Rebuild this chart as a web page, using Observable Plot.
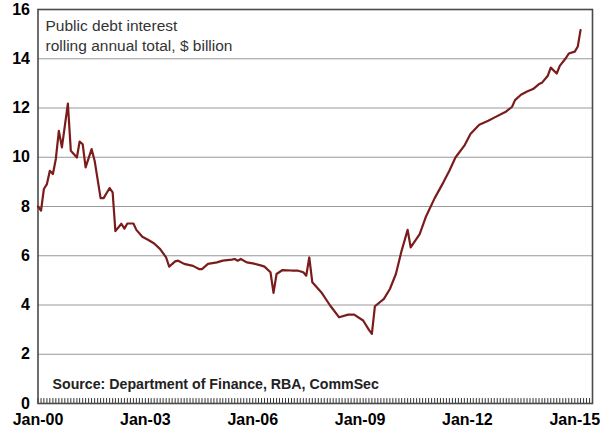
<!DOCTYPE html>
<html>
<head>
<meta charset="utf-8">
<script src="https://cdn.jsdelivr.net/npm/d3@7"></script>
<script src="https://cdn.jsdelivr.net/npm/@observablehq/plot@0.6"></script>
<style>
  html, body { margin: 0; padding: 0; background: #fff; }
  #chart svg { display: block; }
</style>
</head>
<body>
<div id="chart"></div>
<script>
const months = [
  "2000-01","2000-02","2000-03","2000-04","2000-05","2000-06","2000-07","2000-08","2000-09","2000-11",
  "2000-12","2001-02","2001-03","2001-04","2001-05","2001-07","2001-08","2001-10","2001-11","2002-01",
  "2002-02","2002-03","2002-05","2002-06","2002-07","2002-09","2002-10","2002-12","2003-02","2003-04",
  "2003-06","2003-08","2003-09","2003-11","2003-12","2004-02","2004-05","2004-07","2004-08","2004-10",
  "2005-01","2005-03","2005-06","2005-07","2005-08","2005-09","2005-11","2006-01","2006-04","2006-05",
  "2006-07","2006-08","2006-09","2006-11","2007-02","2007-04","2007-06","2007-07","2007-08","2007-09",
  "2007-12","2008-03","2008-06","2008-09","2008-11","2009-02","2009-04","2009-05","2009-06","2009-09",
  "2009-11","2010-01","2010-03","2010-05","2010-06","2010-09","2010-11","2011-02","2011-05","2011-07",
  "2011-09","2011-12","2012-02","2012-05","2012-08","2012-10","2013-02","2013-04","2013-05","2013-07",
  "2013-09","2013-11","2014-01","2014-02","2014-04","2014-05","2014-07","2014-08","2014-10","2014-11",
  "2015-01","2015-02","2015-03"
];
const interest = [
  8.0, 7.83, 8.71, 8.91, 9.45, 9.32, 9.93, 11.07, 10.4, 12.18,
  10.26, 9.99, 10.64, 10.53, 9.59, 10.33, 9.86, 8.34, 8.34, 8.75,
  8.57, 7.0, 7.3, 7.1, 7.31, 7.31, 7.05, 6.77, 6.64, 6.5,
  6.27, 5.93, 5.56, 5.77, 5.8, 5.67, 5.59, 5.46, 5.46, 5.67,
  5.73, 5.8, 5.84, 5.87, 5.8, 5.87, 5.73, 5.69, 5.6, 5.56,
  5.33, 4.49, 5.26, 5.42, 5.4, 5.4, 5.33, 5.19, 5.93, 4.92,
  4.52, 3.98, 3.5, 3.61, 3.61, 3.37, 2.99, 2.83, 3.95, 4.25,
  4.65, 5.26, 6.21, 7.05, 6.34, 6.88, 7.56, 8.34, 8.98, 9.45,
  9.99, 10.47, 10.94, 11.32, 11.48, 11.61, 11.86, 12.05, 12.32, 12.54,
  12.67, 12.77, 12.97, 13.03, 13.31, 13.64, 13.4, 13.71, 14.02, 14.21,
  14.29, 14.5, 15.16
];
const yTicks = [0, 2, 4, 6, 8, 10, 12, 14, 16];
const gridTicks = [2, 4, 6, 8, 10, 12, 14];
const xTickYears = [2000, 2003, 2006, 2009, 2012, 2015];
const labelText = "Public debt interest\nrolling annual total, $ billion";
const sourceText = "Source: Department of Finance, RBA, CommSec";

const parse = d3.utcParse("%Y-%m");
const data = months.map((m, i) => ({date: parse(m), value: interest[i]}));
const xStart = new Date(Date.UTC(2000, 0, 1));
const xEnd = new Date(Date.UTC(2015, 6, 1));
const xTicks = xTickYears.map(y => new Date(Date.UTC(y, 0, 1)));
const minorTicks = d3.utcMonth.range(xStart, xEnd);

const font = "'Liberation Sans', Arial, sans-serif";

const chart = Plot.plot({
  width: 603,
  height: 428,
  marginLeft: 37.5,
  marginRight: 11,
  marginTop: 9,
  marginBottom: 25,
  style: {fontFamily: font, background: "#fff"},
  x: {type: "utc", domain: [xStart, xEnd], label: null},
  y: {domain: [0, 16], label: null},
  marks: [
    Plot.ruleY(gridTicks, {stroke: "#999", strokeWidth: 1.2}),
    Plot.ruleX(minorTicks, {y1: 0, y2: 0.2, stroke: "#333", strokeWidth: 1}),
    Plot.frame({stroke: "#4a4a4a", strokeWidth: 1.6, fill: "none"}),
    Plot.axisY({ticks: yTicks, label: null, tickSize: 0, tickPadding: 8, fontSize: 16, fontWeight: "bold"}),
    Plot.axisX({ticks: xTicks, label: null, tickSize: 0, tickPadding: 10, fontSize: 16, fontWeight: "bold",
      tickFormat: d => "Jan-" + String(d.getUTCFullYear()).slice(2)}),
    Plot.line(data, {x: "date", y: "value", stroke: "#7b1c1c", strokeWidth: 2.2, curve: "linear"}),
    Plot.text([labelText], {frameAnchor: "top-left", dx: 7.5, dy: 7, fontSize: 15.5, fill: "#333", lineHeight: 1.3, textAnchor: "start", lineAnchor: "top"}),
    Plot.text([sourceText], {frameAnchor: "bottom-left", dx: 14.5, dy: -15, fontSize: 14.2, fontWeight: "bold", fill: "#222", textAnchor: "start", lineAnchor: "bottom"})
  ]
});
document.getElementById("chart").appendChild(chart);
</script>
</body>
</html>
